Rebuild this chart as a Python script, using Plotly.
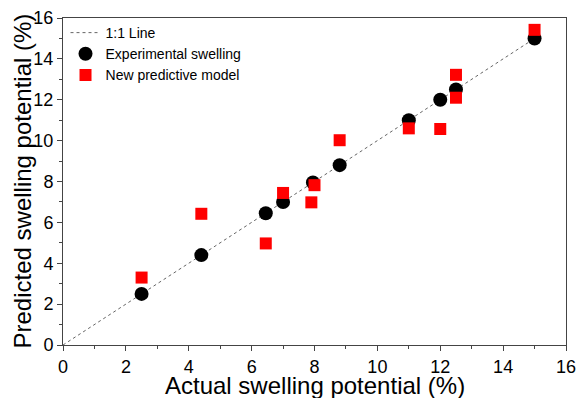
import plotly.graph_objects as go

# Data
exp_actual = [2.5, 4.4, 6.45, 7.0, 7.95, 8.8, 11.0, 12.0, 12.5, 15.0]
exp_pred = [2.5, 4.4, 6.45, 7.0, 7.95, 8.8, 11.0, 12.0, 12.5, 15.0]
model_actual = [2.5, 4.4, 6.45, 7.0, 7.9, 8.0, 8.8, 11.0, 12.0, 12.5, 12.5, 15.0]
model_pred = [3.3, 6.42, 4.97, 7.44, 6.98, 7.82, 10.02, 10.6, 10.57, 13.22, 12.1, 15.42]
line_x = [0, 15]
line_y = [0, 15]
tick_vals = [0, 2, 4, 6, 8, 10, 12, 14, 16]
x_title = "Actual swelling potential (%)"
y_title = "Predicted swelling potential (%)"

font = "Liberation Sans, Arial, sans-serif"

fig = go.Figure()
fig.add_trace(go.Scatter(x=line_x, y=line_y, mode="lines", name="1:1 Line",
                         line=dict(color="#666666", width=1, dash="dot")))
fig.add_trace(go.Scatter(x=exp_actual, y=exp_pred, mode="markers", name="Experimental swelling",
                         marker=dict(symbol="circle", size=14, color="black")))
fig.add_trace(go.Scatter(x=model_actual, y=model_pred, mode="markers", name="New predictive model",
                         marker=dict(symbol="square", size=12, color="#ff0000")))

axis_common = dict(
    range=[0, 16], tickvals=tick_vals, showgrid=False, zeroline=False,
    showline=True, linecolor="#444444", linewidth=1, mirror=True,
    ticks="outside", ticklen=5, tickwidth=1, tickcolor="#444444",
    tickfont=dict(family=font, size=18, color="black"),
    minor=dict(ticks="outside", ticklen=3, dtick=1, tickcolor="#444444"),
    automargin=False,
)

fig.update_layout(
    width=578, height=398,
    margin=dict(l=63, r=12, t=18, b=53),
    plot_bgcolor="white", paper_bgcolor="white",
    font=dict(family=font, color="black"),
    xaxis=dict(**axis_common),
    yaxis=dict(**axis_common),
    legend=dict(x=0.005, y=1.003, xanchor="left", yanchor="top",
                bgcolor="rgba(0,0,0,0)", font=dict(family=font, size=14),
                tracegroupgap=0, itemwidth=30),
    showlegend=True,
    annotations=[
        dict(text=x_title, xref="paper", yref="paper", x=0.5, y=0,
             xanchor="center", yanchor="middle", yshift=-40, showarrow=False,
             font=dict(family=font, size=24, color="black")),
        dict(text=y_title, xref="paper", yref="paper", x=0, y=0.5, textangle=-90,
             xanchor="center", yanchor="middle", xshift=-41, showarrow=False,
             font=dict(family=font, size=24, color="black")),
    ],
)

fig.write_html("out.html")
